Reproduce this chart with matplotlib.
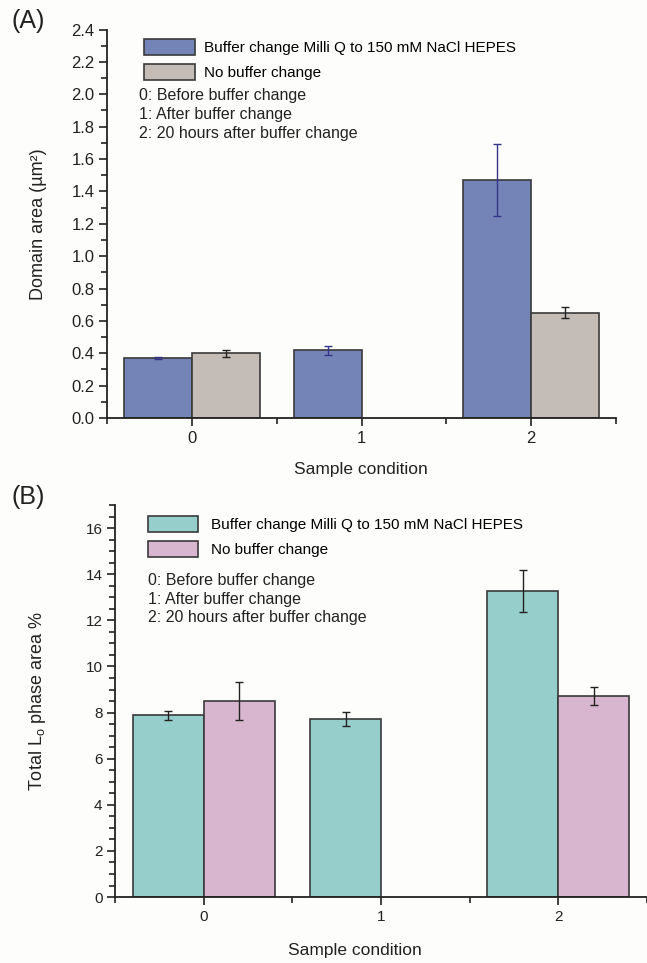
import matplotlib
import numpy as np

matplotlib.use("Agg")
import matplotlib.pyplot as plt
from matplotlib.patches import Patch
from matplotlib.ticker import FormatStrFormatter, MultipleLocator

plt.rcParams["font.family"] = ["Liberation Sans", "DejaVu Sans"]
plt.rcParams["mathtext.fontset"] = "custom"
plt.rcParams["mathtext.rm"] = "Liberation Sans"

conditions = ["0", "1", "2"]
notes = ["0: Before buffer change", "1: After buffer change", "2: 20 hours after buffer change"]
label_change = "Buffer change Milli Q to 150 mM NaCl HEPES"
label_none = "No buffer change"

# panel A: domain area (um^2)
area_change = [0.37, 0.42, 1.47]
area_change_err = [0.005, 0.028, 0.22]
area_none = [0.40, np.nan, 0.65]
area_none_err = [0.022, np.nan, 0.034]

# panel B: total Lo phase area %
lo_change = [7.88, 7.71, 13.28]
lo_change_err = [0.21, 0.31, 0.90]
lo_none = [8.51, np.nan, 8.72]
lo_none_err = [0.83, np.nan, 0.38]

EDGE = "#3a3a3a"
INK = "#222222"


def draw_panel(ax, vals1, err1, vals2, err2, c1, c2, ecol1, ecol2, ticksize):
    x = np.arange(len(conditions))
    w = 0.4
    ax.bar(x - w / 2, vals1, w, color=c1, edgecolor=EDGE, linewidth=1.2, zorder=2)
    ax.bar(x + w / 2, vals2, w, color=c2, edgecolor=EDGE, linewidth=1.2, zorder=2)
    ax.errorbar(x - w / 2, vals1, yerr=err1, fmt="none", ecolor=ecol1,
                elinewidth=1.0, capsize=3, capthick=1.0, zorder=3)
    ax.errorbar(x + w / 2, vals2, yerr=err2, fmt="none", ecolor=ecol2,
                elinewidth=1.0, capsize=3, capthick=1.0, zorder=3)

    ax.set_xlim(-0.5, 2.5)
    ax.set_xticks(x)
    ax.set_xticklabels(conditions)
    ax.xaxis.set_minor_locator(MultipleLocator(0.5))
    for side in ["top", "right"]:
        ax.spines[side].set_visible(False)
    for side in ["left", "bottom"]:
        ax.spines[side].set_linewidth(1.3)
        ax.spines[side].set_color(INK)
    ax.tick_params(which="major", length=6, width=1.2, labelsize=ticksize,
                   colors=INK, pad=3)
    ax.tick_params(which="minor", length=4, width=1.2, colors=INK)
    ax.set_facecolor("none")

    return [Patch(facecolor=c1, edgecolor=EDGE, linewidth=1.2),
            Patch(facecolor=c2, edgecolor=EDGE, linewidth=1.2)]


fig = plt.figure(figsize=(6.47, 9.63), dpi=100)
fig.patch.set_facecolor("#fdfdfc")

# ---- panel A
axA = fig.add_axes([0.1654, 0.5659, 0.7867, 0.4034])
hA = draw_panel(axA, area_change, area_change_err, area_none, area_none_err,
                "#7584b7", "#c3bcb7", "#35358a", INK, 12)
axA.set_ylim(0, 2.4)
axA.yaxis.set_major_locator(MultipleLocator(0.2))
axA.yaxis.set_minor_locator(MultipleLocator(0.1))
axA.yaxis.set_major_formatter(FormatStrFormatter("%.1f"))
axA.set_ylabel("Domain area (µm²)", fontsize=13, color=INK)
axA.yaxis.set_label_coords(-0.118, 0.5)
axA.legend(hA, [label_change, label_none], loc="upper left",
           bbox_to_anchor=(0.055, 1.0), frameon=False, fontsize=11,
           handlelength=3.3, handleheight=1.25, handletextpad=0.6,
           labelspacing=0.6, borderaxespad=0.2)
for i, t in enumerate(notes):
    axA.text(0.063, 0.83 - i * 0.049, t, transform=axA.transAxes,
             fontsize=11.5, color=INK, va="center")

# ---- panel B
axB = fig.add_axes([0.1777, 0.0685, 0.8223, 0.407])
hB = draw_panel(axB, lo_change, lo_change_err, lo_none, lo_none_err,
                "#96cecb", "#d8b6d0", INK, INK, 11)
axB.set_ylim(0, 17)
axB.yaxis.set_major_locator(MultipleLocator(2))
axB.yaxis.set_minor_locator(MultipleLocator(0.5))
axB.set_ylabel(r"Total L$_\mathregular{o}$ phase area %", fontsize=13, color=INK)
axB.yaxis.set_label_coords(-0.126, 0.5)
axB.legend(hB, [label_change, label_none], loc="upper left",
           bbox_to_anchor=(0.045, 0.995), frameon=False, fontsize=11,
           handlelength=3.3, handleheight=1.25, handletextpad=0.8,
           labelspacing=0.55, borderaxespad=0.2)
for i, t in enumerate(notes):
    axB.text(0.062, 0.808 - i * 0.048, t, transform=axB.transAxes,
             fontsize=11.5, color=INK, va="center")

# panel letters and x labels
fig.text(0.018, 0.978, "(A)", fontsize=18, va="center", color=INK)
fig.text(0.018, 0.484, "(B)", fontsize=18, va="center", color=INK)
fig.text(0.558, 0.512, "Sample condition", fontsize=12.5, ha="center",
         va="center", color=INK)
fig.text(0.548, 0.013, "Sample condition", fontsize=12.5, ha="center",
         va="center", color=INK)

fig.savefig("out.png", dpi=100, facecolor=fig.get_facecolor())
